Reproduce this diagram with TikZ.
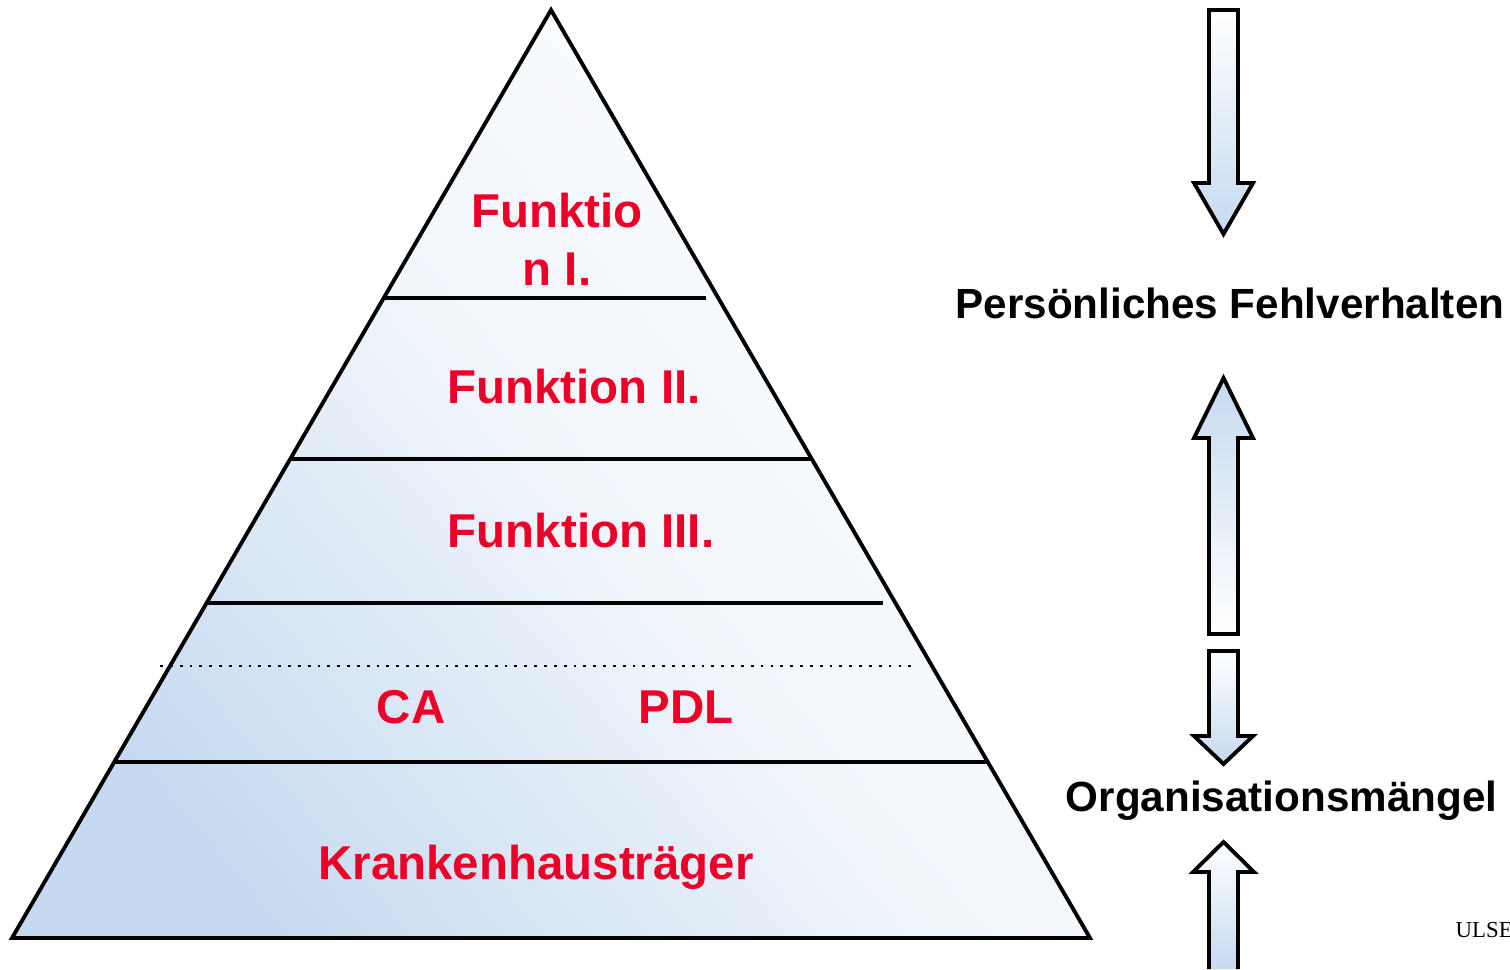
\documentclass[tikz,border=0pt]{standalone}
\usepackage{fontspec}
\setmainfont{Liberation Sans}
\newfontfamily\ulsefont{Liberation Serif}
\usetikzlibrary{positioning}

\definecolor{pyrblue}{RGB}{197,218,240}
\definecolor{levelred}{RGB}{236,0,40}

\tikzset{
  levellabel/.style={text=levelred, font=\bfseries\fontsize{13.5}{15.5}\selectfont, align=center, inner sep=0pt},
  sidelabel/.style={font=\bfseries\fontsize{12}{14}\selectfont, inner sep=0pt},
  blockarrow/.style={draw=black, line width=1.1pt, line join=miter}
}

\begin{document}
\begin{tikzpicture}[x=0.01cm, y=-0.01cm]
      \useasboundingbox (0,0) rectangle (1510,969);

      % Define points
      \coordinate (Top) at (551, 10);
      \coordinate (BL) at (12, 938);
      \coordinate (BR) at (1090, 938);
      \coordinate (L1a) at (384, 298);
      \coordinate (L1b) at (706, 298);
      \coordinate (L2a) at (291, 459);
      \coordinate (L2b) at (811, 459);
      \coordinate (L3a) at (206, 603);
      \coordinate (L3b) at (883, 603);
      \coordinate (D1a) at (160, 666);
      \coordinate (D1b) at (913, 666);
      \coordinate (L4a) at (114, 762);
      \coordinate (L4b) at (988, 762);

      % Draw pyramid
      \shade[top color=white, bottom color=pyrblue, middle color=pyrblue!25, shading angle=-50]
        (Top) -- (BR) -- (BL) -- cycle;
      \draw[line width=1.1pt, line join=miter] (Top) -- (BR) -- (BL) -- cycle; % Outer shape
      \draw[line width=1.1pt] (L1a) -- (L1b);
      \draw[line width=1.1pt] (L2a) -- (L2b);
      \draw[line width=1.1pt] (L3a) -- (L3b);
      \draw[line width=0.8pt, dotted] (D1a) -- (D1b);
      \draw[line width=1.1pt] (L4a) -- (L4b);

      % Label levels
      \node[levellabel] (f1) at (557, 239) {Funktio\\[1pt]n I.};
      \node[levellabel] (f2) at (574, 387) {Funktion II.};
      \node[levellabel] (f3) at (581, 531) {Funktion III.};
      \node[levellabel] (ca) at (411, 707) {CA};
      \node[levellabel] (pdl) at (686, 707) {PDL};
      \node[levellabel] (kt) at (536, 867) {Krankenhausträger};

      % Draw arrows
      \shade[top color=white, bottom color=pyrblue]
        (1209,10) -- (1238,10) -- (1238,183) -- (1253,183) -- (1223.5,234) -- (1194,183) -- (1209,183) -- cycle;
      \draw[blockarrow]
        (1209,10) -- (1238,10) -- (1238,183) -- (1253,183) -- (1223.5,234) -- (1194,183) -- (1209,183) -- cycle;
      \shade[top color=pyrblue, bottom color=white]
        (1223.5,378) -- (1253,438) -- (1238,438) -- (1238,634) -- (1209,634) -- (1209,438) -- (1194,438) -- cycle;
      \draw[blockarrow]
        (1223.5,378) -- (1253,438) -- (1238,438) -- (1238,634) -- (1209,634) -- (1209,438) -- (1194,438) -- cycle;
      \shade[top color=white, bottom color=pyrblue]
        (1209,651) -- (1238,651) -- (1238,736) -- (1253,736) -- (1223.5,764) -- (1194,736) -- (1209,736) -- cycle;
      \draw[blockarrow]
        (1209,651) -- (1238,651) -- (1238,736) -- (1253,736) -- (1223.5,764) -- (1194,736) -- (1209,736) -- cycle;
      \shade[top color=white, bottom color=pyrblue]
        (1209,969) -- (1209,872) -- (1193,872) -- (1223.5,842) -- (1254,872) -- (1238,872) -- (1238,969) -- cycle;
      \draw[blockarrow]
        (1209,969) -- (1209,872) -- (1193,872) -- (1223.5,842) -- (1254,872) -- (1238,872) -- (1238,969);

      % Side labels
      \node[sidelabel, anchor=east] (fehl) at (1505, 303) {Persönliches Fehlverhalten};
      \node[sidelabel, anchor=east] (org) at (1498, 801) {Organisationsmängel};
      \node[font=\ulsefont\fontsize{6.5}{8}\selectfont, anchor=west, inner sep=0pt] (ulse) at (1455, 930) {ULSE};
  \end{tikzpicture}
\end{document}
